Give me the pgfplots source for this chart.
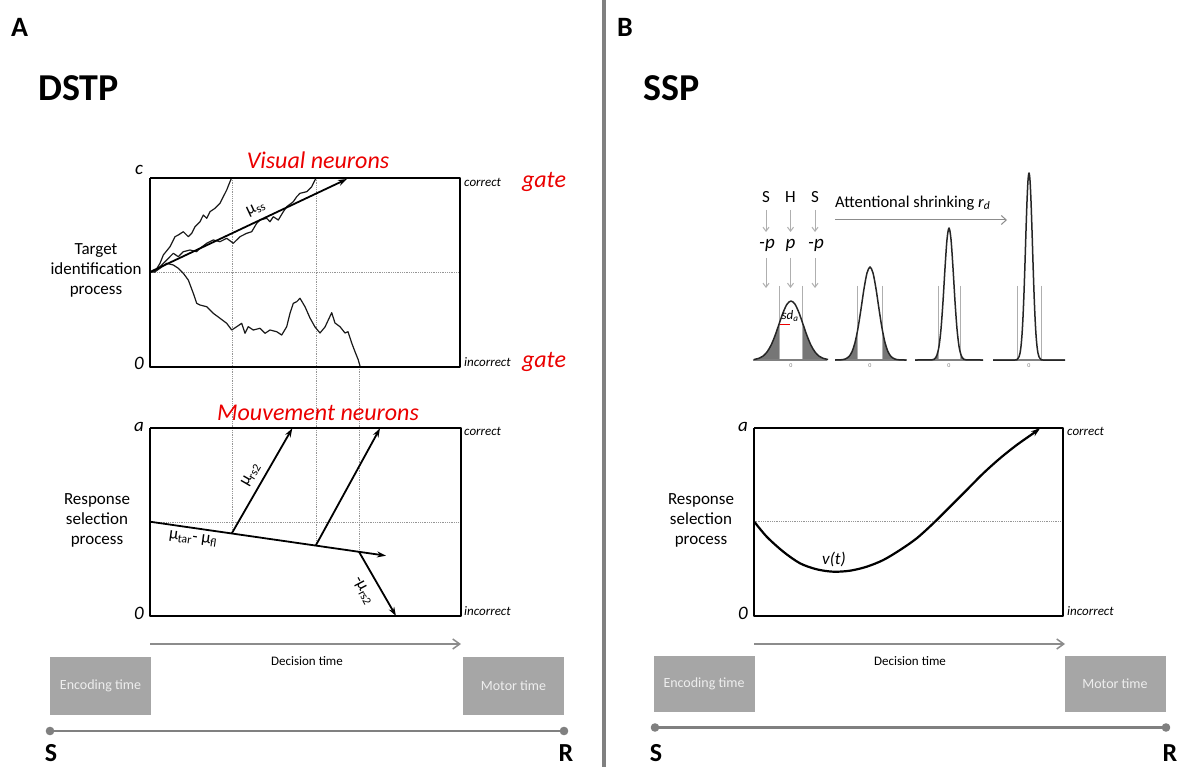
\documentclass[border=0pt]{standalone}
\usepackage{pgfplots}
\pgfplotsset{compat=1.18}
\usepackage{fontspec}
\setmainfont{Carlito}
\usetikzlibrary{arrows.meta}

\definecolor{boxgray}{RGB}{166,166,166}
\definecolor{linegray}{RGB}{128,128,128}
\definecolor{arrgray}{RGB}{140,140,140}
\definecolor{dotgray}{RGB}{150,150,150}
\definecolor{tailgray}{RGB}{118,118,118}
\definecolor{palegray}{RGB}{175,175,175}
\definecolor{gred}{RGB}{235,0,0}
\definecolor{boxtext}{RGB}{238,238,238}
\newcommand{\fs}[1]{\fontsize{#1}{#1}\selectfont}

\begin{document}
\begin{tikzpicture}[every node/.style={inner sep=0pt}]
\path[use as bounding box, fill=white] (0,0) rectangle (1183pt,767pt);
\begin{axis}[
    at={(0,0)}, anchor=south west,
    scale only axis, width=1183pt, height=767pt,
    xmin=0, xmax=1183, ymin=0, ymax=767,
    y dir=reverse, hide axis, clip=false,
    every axis plot/.append style={line join=round},
]
% ---------- panel A, target identification ----------
\addplot[dotgray, densely dotted, line width=0.8pt] coordinates {(150,272) (460,272)};
\addplot[dotgray, densely dotted, line width=0.8pt] coordinates {(232,178) (232,533.5)};
\addplot[dotgray, densely dotted, line width=0.8pt] coordinates {(316,178) (316,545.6)};
\addplot[dotgray, densely dotted, line width=0.8pt] coordinates {(359,367) (359,551.8)};

\addplot[black!90, line width=1.2pt] coordinates {
    (150,272) (155,271.7) (160,263.3) (163.3,255) (170,246.7) (175,236.7) (178.3,235)
    (183.3,231.7) (188.3,236.7) (191.7,233.3) (195,226.7) (200,221.7) (203.3,215)
    (206.7,218.3) (210,211.7) (215,208.3) (220,203.3) (223.3,196.7) (226.7,190)
    (230,181.7) (231.7,177.7)};
\addplot[black!90, line width=1.2pt] coordinates {
    (150,272) (155,271.7) (160,266.7) (166.7,260) (173.3,253.3) (178.3,256.7) (183.3,251.7)
    (190,250) (196.7,251.7) (200,248.3) (206.7,243.3) (213.3,240) (220,241.7)
    (226.7,238.3) (233.3,243.3) (240,236.7) (246.7,233.3) (251.7,231.7) (256.7,223.3)
    (260,220) (266.7,218.3) (270,221.7) (273.3,216.7) (278.3,220) (283.3,211.7)
    (286.7,206.7) (293.3,201.7) (296.7,196.7) (300,193.3) (306.7,191.7) (311.7,186.7)
    (315,180) (316.7,177.7)};
\addplot[black!90, line width=1.2pt] coordinates {
    (150,272) (155,271.7) (160,268.3) (166.7,263.3) (173.3,265) (178.3,268.3) (183.3,273.3)
    (188.3,280) (193.3,293.3) (196.7,303.3) (200,305) (206.7,306.7) (213.3,313.3)
    (220,318.3) (226.7,323.3) (231.7,330) (236.7,326.7) (241.7,323.3) (245,333.3)
    (248.3,326.7) (253.3,330) (260,328.3) (265,333.3) (270,330) (276.7,331.7)
    (281.7,335) (286.7,326.7) (290,313.3) (293.3,303.3) (296.7,301.7) (300,298.3)
    (305,306.7) (310,318) (315,327) (320,333) (325,327) (331.7,312.7) (335,323)
    (340,326.7) (345,333) (348,331.7) (351.7,343) (355,351.7) (358.3,360) (360,366)};
\addplot[black, line width=1.8pt, -{Stealth[length=9pt,width=6pt]}] coordinates {(150,272) (347,179)};

\addplot[black, line width=2pt] coordinates {(150,178) (460,178) (460,367) (150,367) (150,178)};

% ---------- panel A, response selection ----------
\addplot[dotgray, densely dotted, line width=0.8pt] coordinates {(150,522) (461,522)};
\addplot[black, line width=2pt] coordinates {(150,428) (461,428) (461,616) (150,616) (150,428)};
\addplot[black, line width=1.8pt, -{Stealth[length=9pt,width=6pt]}] coordinates {(150,521.7) (386,555.7)};
\addplot[black, line width=1.8pt, -{Stealth[length=9pt,width=6pt]}] coordinates {(231.7,533.5) (292.3,428.3)};
\addplot[black, line width=1.8pt, -{Stealth[length=9pt,width=6pt]}] coordinates {(315.7,545.6) (380,428.3)};
\addplot[black, line width=1.8pt, -{Stealth[length=9pt,width=6pt]}] coordinates {(359,551.8) (396,616)};

% ---------- panel A, time line ----------
\addplot[arrgray, line width=1.5pt, -{Straight Barb[length=7pt,width=10pt]}] coordinates {(150,644) (461,644)};
\addplot[fill=boxgray, draw=none] coordinates {(50,657) (151,657) (151,715) (50,715)};
\addplot[fill=boxgray, draw=none] coordinates {(463,657) (564,657) (564,715) (463,715)};
\addplot[linegray, line width=2.5pt, mark=*, mark size=3pt, mark options={fill=linegray, draw=linegray}] coordinates {(50,731) (564,731)};

% ---------- separator ----------
\addplot[linegray, line width=4pt] coordinates {(604,0) (604,767)};

% ---------- panel B, gaussians ----------
\addplot[fill=tailgray, draw=none] coordinates {(754,360) (754,359.5) (759,358.3) (763,356.1) (767,352) (771,345.3) (775,335.7) (779.5,322.7) (779.5,360)};
\addplot[fill=tailgray, draw=none] coordinates {(802.5,360) (802.5,322.7) (807,335.7) (811,345.3) (815,352) (819,356.1) (823,358.3) (828,359.5) (828,360)};
\addplot[fill=tailgray, draw=none] coordinates {(835,360) (840,359.9) (845,359.1) (849,356.5) (852,351.7) (855,342.6) (857.3,332) (857.3,360)};
\addplot[fill=tailgray, draw=none] coordinates {(882.7,360) (882.7,332) (885,342.6) (888,351.7) (891,356.5) (895,359.1) (900,359.9) (906,360)};
\addplot[fill=tailgray, draw=none] coordinates {(915,360) (932,359.8) (935,358.4) (937,354.9) (938,351.5) (938,360)};
\addplot[fill=tailgray, draw=none] coordinates {(960,360) (960,351.5) (961,354.9) (963,358.4) (966,359.8) (983,360)};

\addplot[palegray, line width=1pt] coordinates {(779.5,286) (779.5,360)};
\addplot[palegray, line width=1pt] coordinates {(802.5,286) (802.5,360)};
\addplot[palegray, line width=1pt] coordinates {(857.3,286) (857.3,360)};
\addplot[palegray, line width=1pt] coordinates {(882.7,286) (882.7,360)};
\addplot[palegray, line width=1pt] coordinates {(938,286) (938,360)};
\addplot[palegray, line width=1pt] coordinates {(960,286) (960,360)};
\addplot[palegray, line width=1pt] coordinates {(1017.3,286) (1017.3,360)};
\addplot[palegray, line width=1pt] coordinates {(1041,286) (1041,360)};

\addplot[linegray, line width=1.5pt] coordinates {(752.7,360) (827.3,360)};
\addplot[linegray, line width=1.5pt] coordinates {(835,360) (906.7,360)};
\addplot[linegray, line width=1.5pt] coordinates {(915,360) (983,360)};
\addplot[linegray, line width=1.5pt] coordinates {(993,360) (1065,360)};

\addplot[black!85, line width=1.5pt, smooth] coordinates {
    (754,359.5) (759,358.3) (763,356.1) (767,352) (771,345.3) (775,335.7) (779,324.2)
    (783,312.8) (787,304.2) (791,301) (795,304.2) (799,312.8) (803,324.2) (807,335.7)
    (811,345.3) (815,352) (819,356.1) (823,358.3) (828,359.5)};
\addplot[black!85, line width=1.5pt, smooth] coordinates {
    (835,360) (840,359.9) (845,359.1) (849,356.5) (852,351.7) (855,342.6) (858,328.1)
    (861,309) (864,288.8) (867,273) (870,267) (873,273) (876,288.8) (879,309)
    (882,328.1) (885,342.6) (888,351.7) (891,356.5) (895,359.1) (900,359.9) (906,360)};
\addplot[black!85, line width=1.5pt, smooth] coordinates {
    (915,360) (932,359.8) (935,358.4) (937,354.9) (939,346.3) (941,329) (943,301.5)
    (945,268.1) (947,239.4) (949,228) (951,239.4) (953,268.1) (955,301.5) (957,329)
    (959,346.3) (961,354.9) (963,358.4) (966,359.8) (983,360)};
\addplot[black!85, line width=1.5pt, smooth] coordinates {
    (993,360) (1015,360) (1017,359.5) (1019,356.8) (1020,353.2) (1021,346.3) (1022,334.7)
    (1023,317) (1024,292.6) (1025,262.7) (1026,230.5) (1027,201.2) (1028,180.5)
    (1029,173) (1030,180.5) (1031,201.2) (1032,230.5) (1033,262.7) (1034,292.6)
    (1035,317) (1036,334.7) (1037,346.3) (1038,353.2) (1039,356.8) (1041,359.5)
    (1043,360) (1065,360)};

\addplot[gred, line width=1pt] coordinates {(779.5,324.5) (790,324.5)};

\addplot[palegray, line width=1pt, -{Straight Barb[length=4pt,width=6pt]}] coordinates {(766,210) (766,232)};
\addplot[palegray, line width=1pt, -{Straight Barb[length=4pt,width=6pt]}] coordinates {(790.5,210) (790.5,232)};
\addplot[palegray, line width=1pt, -{Straight Barb[length=4pt,width=6pt]}] coordinates {(815,210) (815,232)};
\addplot[palegray, line width=1pt, -{Straight Barb[length=4pt,width=6pt]}] coordinates {(766,258) (766,288)};
\addplot[palegray, line width=1pt, -{Straight Barb[length=4pt,width=6pt]}] coordinates {(790.5,258) (790.5,288)};
\addplot[palegray, line width=1pt, -{Straight Barb[length=4pt,width=6pt]}] coordinates {(815,258) (815,288)};
\addplot[arrgray, line width=1pt, -{Straight Barb[length=5pt,width=9pt]}] coordinates {(835,220) (1007,220)};

% ---------- panel B, response selection ----------
\addplot[dotgray, densely dotted, line width=0.8pt] coordinates {(754,521.7) (1062.7,521.7)};
\addplot[black, line width=2.2pt, smooth, -{Stealth[length=9pt,width=6pt]}] coordinates {
    (754.3,521.7) (766.7,536.7) (783.3,551.7) (800,563.3) (816.7,569.3) (833.3,571.7)
    (850,570.7) (866.7,566.7) (883.3,560) (900,550) (916.7,538.3) (933.3,523.3)
    (950,506.7) (966.7,490) (983.3,473.3) (1000,458.3) (1016.7,445) (1033.3,433.3)
    (1040,428.3)};
\addplot[black, line width=2pt] coordinates {(754.3,428.3) (1062.7,428.3) (1062.7,616) (754.3,616) (754.3,428.3)};

% ---------- panel B, time line ----------
\addplot[arrgray, line width=1.5pt, -{Straight Barb[length=7pt,width=10pt]}] coordinates {(754,644) (1065,644)};
\addplot[fill=boxgray, draw=none] coordinates {(654,656) (754.5,656) (754.5,712) (654,712)};
\addplot[fill=boxgray, draw=none] coordinates {(1064.6,656) (1166,656) (1166,712) (1064.6,712)};
\addplot[linegray, line width=2.5pt, mark=*, mark size=3pt, mark options={fill=linegray, draw=linegray}] coordinates {(655,727.5) (1166,727.5)};

% ---------- text ----------
\node[anchor=west, font=\fs{28}\bfseries] at (axis cs:11,27) {A};
\node[anchor=west, font=\fs{38}\bfseries] at (axis cs:38,88) {DSTP};
\node[anchor=west, font=\fs{28}\bfseries] at (axis cs:617,27) {B};
\node[anchor=west, font=\fs{38}\bfseries] at (axis cs:643,88) {SSP};

\node[font=\fs{24}\itshape, text=gred] at (axis cs:318,160) {Visual neurons};
\node[font=\fs{24}\itshape, text=gred] at (axis cs:318,413) {Mouvement neurons};
\node[font=\fs{24}\itshape, text=gred] at (axis cs:544,182) {gate};
\node[font=\fs{24}\itshape, text=gred] at (axis cs:544,362) {gate};

\node[font=\fs{19}\itshape] at (axis cs:139,170) {c};
\node[font=\fs{19}\itshape] at (axis cs:139,363) {0};
\node[font=\fs{19}\itshape] at (axis cs:139,427) {a};
\node[font=\fs{19}\itshape] at (axis cs:139,613) {0};
\node[font=\fs{19}\itshape] at (axis cs:743,427) {a};
\node[font=\fs{19}\itshape] at (axis cs:743,613) {0};

\node[anchor=west, font=\fs{13}\itshape] at (axis cs:464,182) {correct};
\node[anchor=west, font=\fs{13}\itshape] at (axis cs:464,362) {incorrect};
\node[anchor=west, font=\fs{13}\itshape] at (axis cs:464,431) {correct};
\node[anchor=west, font=\fs{13}\itshape] at (axis cs:464,611) {incorrect};
\node[anchor=west, font=\fs{13}\itshape] at (axis cs:1067,431) {correct};
\node[anchor=west, font=\fs{13}\itshape] at (axis cs:1067,611) {incorrect};

\node[align=center, font=\fontsize{17}{20}\selectfont] at (axis cs:96,270) {Target\\identification\\process};
\node[align=center, font=\fontsize{17}{20}\selectfont] at (axis cs:97,520) {Response\\selection\\process};
\node[align=center, font=\fontsize{17}{20}\selectfont] at (axis cs:701,520) {Response\\selection\\process};

\node[rotate=25, font=\fs{17}] at (axis cs:256,209) {μ\textsubscript{ss}};
\node[rotate=60, font=\fs{17}] at (axis cs:251,475) {μ\textsubscript{rs2}};
\node[rotate=-8, font=\fs{17}] at (axis cs:193,539) {μ\textsubscript{tar}- μ\textsubscript{fl}};
\node[rotate=-62, font=\fs{17}] at (axis cs:363,591) {-μ\textsubscript{rs2}};
\node[font=\fs{17}\itshape] at (axis cs:834,559) {v(t)};

\node[font=\fs{13}] at (axis cs:307,661) {Decision time};
\node[font=\fs{13}] at (axis cs:910,661) {Decision time};
\node[font=\fs{14}, text=boxtext] at (axis cs:100.5,686) {Encoding time};
\node[font=\fs{14}, text=boxtext] at (axis cs:513.5,686) {Motor time};
\node[font=\fs{14}, text=boxtext] at (axis cs:704,684) {Encoding time};
\node[font=\fs{14}, text=boxtext] at (axis cs:1115,684) {Motor time};

\node[font=\fs{26}\bfseries] at (axis cs:51,753) {S};
\node[font=\fs{26}\bfseries] at (axis cs:566,753) {R};
\node[font=\fs{26}\bfseries] at (axis cs:656,753) {S};
\node[font=\fs{26}\bfseries] at (axis cs:1170,753) {R};

\node[font=\fs{17}] at (axis cs:766,197) {S};
\node[font=\fs{17}] at (axis cs:790.5,197) {H};
\node[font=\fs{17}] at (axis cs:815,197) {S};
\node[font=\fs{19}\itshape] at (axis cs:767,245) {-p};
\node[font=\fs{19}\itshape] at (axis cs:790.5,245) {p};
\node[font=\fs{19}\itshape] at (axis cs:816,245) {-p};
\node[anchor=west, font=\fs{16.5}] at (axis cs:835,203) {Attentional shrinking \textit{r}\textsubscript{\textit{d}}};
\node[font=\fs{13}\itshape] at (axis cs:790,316) {sd\textsubscript{a}};
\node[font=\fs{6}, text=linegray] at (axis cs:791,366) {0};
\node[font=\fs{6}, text=linegray] at (axis cs:870,366) {0};
\node[font=\fs{6}, text=linegray] at (axis cs:949,366) {0};
\node[font=\fs{6}, text=linegray] at (axis cs:1029,366) {0};
\end{axis}
\end{tikzpicture}
\end{document}
